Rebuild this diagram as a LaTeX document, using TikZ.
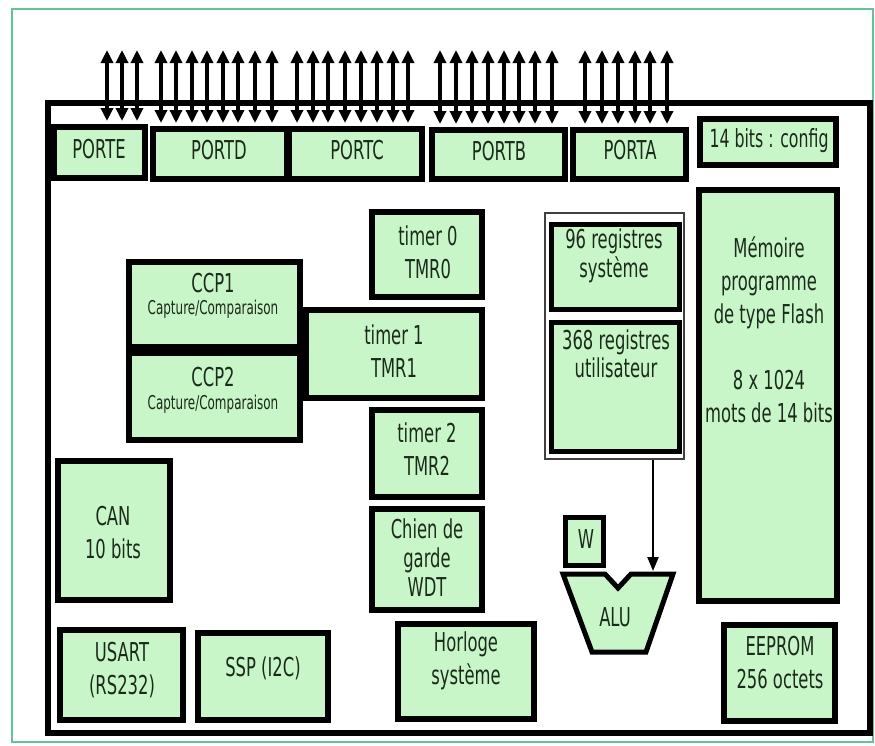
\documentclass[tikz,border=0pt]{standalone}
\usepackage{fontspec}
\setmainfont{DejaVu Sans}[FakeStretch=0.63]
\usetikzlibrary{arrows.meta,fit}
\definecolor{boxgreen}{RGB}{200,246,200}
\definecolor{framegreen}{RGB}{100,195,150}
\definecolor{txt}{RGB}{28,42,28}
\newcommand\mybox[5]{%
  \coordinate (#1-a) at (#2,#3);
  \coordinate (#1-b) at (#4,#5);
  \node[box, fit=(#1-a)(#1-b)] (#1) {};}
\begin{document}
\begin{tikzpicture}[x=1pt,y=-1pt,
  box/.style={draw=black, line width=6pt, fill=boxgreen, inner sep=0pt},
  lbl/.style={text=txt, align=center, inner sep=0pt, font=\fontsize{26}{33}\selectfont},
  tight/.style={font=\fontsize{26}{29}\selectfont},
  small/.style={text=txt, inner sep=0pt, font=\fontsize{19}{22}\selectfont},
  io/.style={line width=3.4pt, shorten >=3pt, {Triangle[width=12pt,length=13pt]}-{Triangle[width=12pt,length=13pt]}},
  feed/.style={line width=2.2pt, -{Triangle[width=11pt,length=14pt]}},
]
\useasboundingbox (0,0) rectangle (875,745);
\fill[white] (0,0) rectangle (875,745);
% outer green frame
\draw[framegreen, line width=2.5pt] (12,9) rectangle (873,742);
% main chip frame
\draw[black, line width=6.5pt] (48,103) rectangle (870,733);

% ports
\mybox{porte}{54}{127}{145}{178}
\mybox{portd}{153}{129}{287}{179}
\mybox{portc}{289}{129}{422}{179}
\mybox{portb}{432}{130}{565}{179}
\mybox{porta}{573}{130}{686}{179}
\mybox{config}{700}{119}{836}{165}

% I/O arrows
\foreach \x [count=\i] in {107,122,137}
  {\coordinate (pe\i) at (\x,50); \draw[io] (pe\i) -- (pe\i |- porte.north);}
\foreach \x [count=\i] in {161,176,192,207,223,238,255,272}
  {\coordinate (pd\i) at (\x,50); \draw[io] (pd\i) -- (pd\i |- portd.north);}
\foreach \x [count=\i] in {297,313,328,345,361,377,393,408}
  {\coordinate (pc\i) at (\x,50); \draw[io] (pc\i) -- (pc\i |- portc.north);}
\foreach \x [count=\i] in {440,456,472,488,504,519,535,552}
  {\coordinate (pb\i) at (\x,50); \draw[io] (pb\i) -- (pb\i |- portb.north);}
\foreach \x [count=\i] in {585,602,618,635,650,667}
  {\coordinate (pa\i) at (\x,50); \draw[io] (pa\i) -- (pa\i |- porta.north);}

% peripheral blocks
\mybox{tmr0}{372}{212}{482}{297}
\mybox{tmr1}{306}{310}{482}{398}
\mybox{tmr2}{372}{410}{482}{497}
\mybox{wdt}{372}{509}{482}{610}
\mybox{horloge}{398}{624}{534}{719}
\mybox{ccp1}{129}{262}{300}{347}
\mybox{ccp2}{129}{353}{300}{440}
\mybox{can}{58}{461}{170}{600}
\mybox{usart}{60}{630}{183}{720}
\mybox{ssp}{198}{633}{328}{720}
\mybox{flash}{699}{190}{837}{601}
\mybox{eeprom}{724}{625}{835}{721}

% register file
\node[draw=black!75, line width=1.8pt, inner sep=0pt, fit={(545,213)(684,459)}] (regs) {};
\begin{scope}[box/.append style={line width=5pt}]
\mybox{sysreg}{551}{224}{679}{309}
\mybox{usrreg}{551}{322}{679}{451}
\mybox{wreg}{565}{517}{603}{565}
\end{scope}

% ALU
\draw[black, line width=5pt, fill=boxgreen, line join=miter]
  (563,574) -- (605,574) -- (618,588) -- (631,574) -- (673,574)
  -- (646,652) -- (592,652) -- cycle;
\coordinate (alutop) at (653,571);
\draw[feed] (regs.south -| alutop) -- (alutop);

% labels
\node[lbl] (t-porte) at (99,149) {PORTE};
\node[lbl] (t-portd) at (219,150) {PORTD};
\node[lbl] (t-portc) at (357,150) {PORTC};
\node[lbl] (t-portb) at (499,151) {PORTB};
\node[lbl] (t-porta) at (630,150) {PORTA};
\node[lbl,font=\fontsize{25}{30}\selectfont] (t-config) at (769,141) {14 bits : config};
\node[lbl] (t-tmr0) at (428,252) {timer 0\\TMR0};
\node[lbl] (t-tmr1) at (394,351) {timer 1\\TMR1};
\node[lbl] (t-tmr2) at (427,449) {timer 2\\TMR2};
\node[lbl,tight] (t-wdt) at (427,558) {Chien de\\garde\\WDT};
\node[lbl] (t-horloge) at (466,661) {Horloge\\système};
\node[lbl] (t-ccp1) at (213,283) {CCP1};
\node[small] (t-cap1) at (213,309) {Capture/Comparaison};
\node[lbl] (t-ccp2) at (213,377) {CCP2};
\node[small] (t-cap2) at (213,404) {Capture/Comparaison};
\node[lbl] (t-can) at (113,533) {CAN\\10 bits};
\node[lbl] (t-usart) at (122,670) {USART\\(RS232)};
\node[lbl] (t-ssp) at (263,668) {SSP (I2C)};
\node[lbl,tight] (t-sysreg) at (614,256) {96 registres\\système};
\node[lbl,font=\fontsize{26}{28}\selectfont] (t-usrreg) at (616,354) {368 registres\\utilisateur};
\node[lbl] (t-w) at (586,539) {W};
\node[lbl] (t-alu) at (615,617) {ALU};
\node[lbl] (t-flash) at (769,330) {Mémoire\\programme\\de type Flash\\[33pt]8 x 1024\\mots de 14 bits};
\node[lbl] (t-eeprom) at (780,663) {EEPROM\\256 octets};
\end{tikzpicture}
\end{document}
